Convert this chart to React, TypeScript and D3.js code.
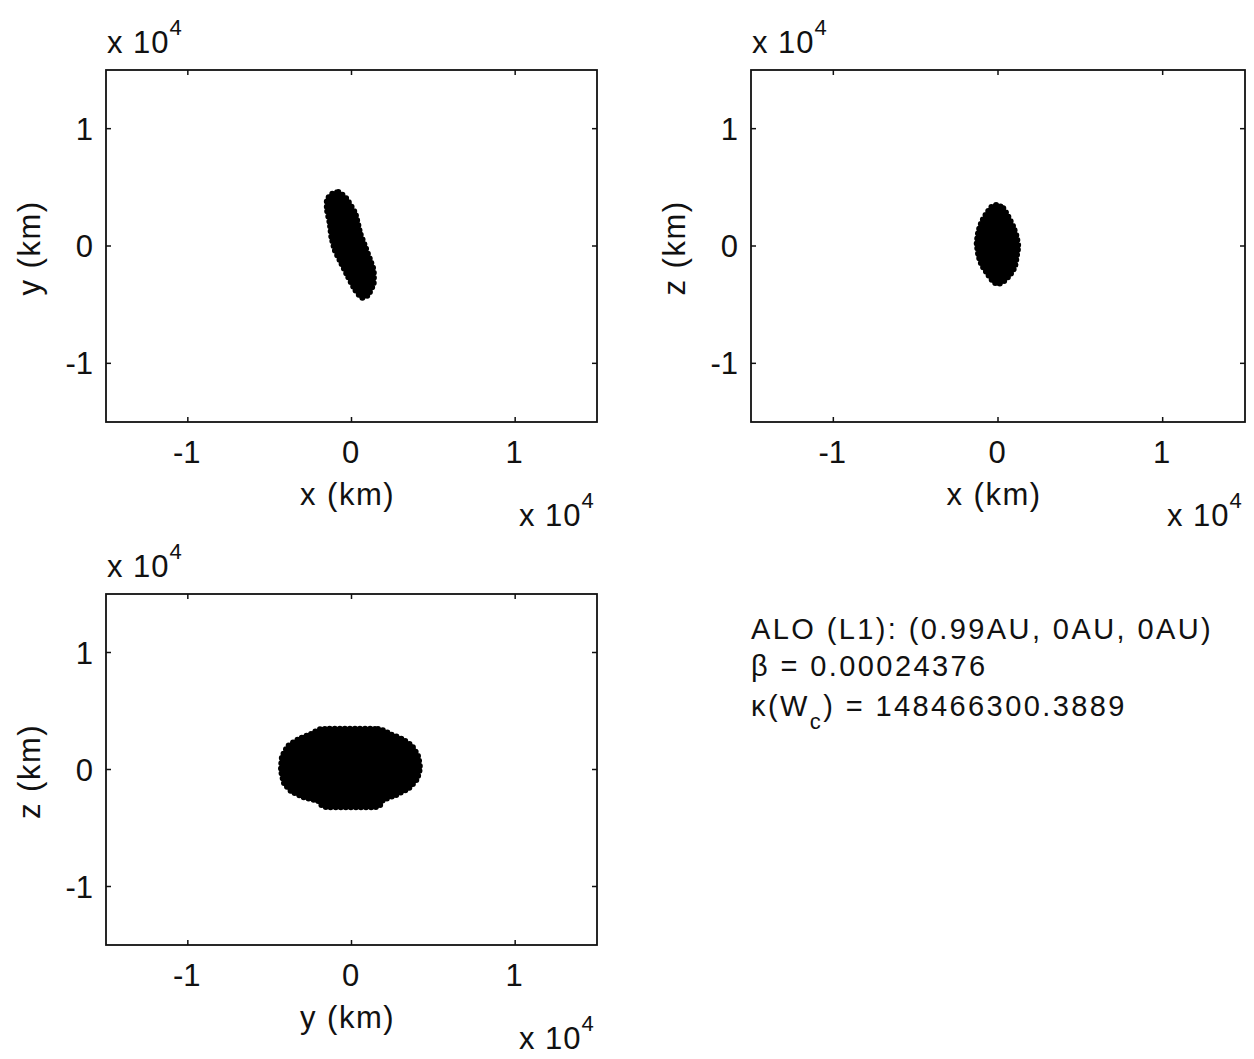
import React from "react";
import * as d3 from "d3";

// Axis settings shared by the three projections (km)
const DOMAIN: [number, number] = [-1.5e4, 1.5e4];
const TICK_VALUES = [-1e4, 0, 1e4];
const TICK_LABELS = ["-1", "0", "1"];

// Outlines of the particle cloud in each projection (km)
const cloudXY: [number, number][] = [
  [-1250, 4400], [-806, 4600], [-330, 4077], [230, 2795], [535, 1085],
  [841, -60], [1146, -1197], [1354, -2051], [1354, -3188], [1020, -4188],
  [623, -4400], [230, -3761], [-212, -2624], [-621, -1479], [-1024, -342],
  [-1232, 795], [-1330, 1940], [-1500, 3077], [-1500, 3932],
];

const cloudXZ: [number, number][] = [
  [-79, 3504], [322, 3222], [625, 2504], [929, 1650], [1135, 795],
  [1233, -60], [1135, -915], [1032, -1769], [729, -2479], [322, -3051],
  [18, -3248], [-285, -3051], [-589, -2479], [-990, -1624], [-1196, -769],
  [-1293, 231], [-1196, 1222], [-990, 2077], [-686, 2795], [-383, 3359],
];

const cloudYZ: [number, number][] = [
  [-1802, 3462], [1619, 3462], [2352, 3034], [3085, 2607], [3696, 2009],
  [4062, 1154], [4185, 128], [4001, -812], [3513, -1581], [2719, -2179],
  [1924, -2607], [1558, -3205], [-1619, -3205], [-2047, -2692], [-2963, -2350],
  [-3696, -1838], [-4124, -1154], [-4307, -43], [-4246, 1068], [-3879, 2009],
  [-3207, 2607], [-2474, 3034],
];

const ORBIT_LINE = "ALO (L1): (0.99AU, 0AU, 0AU)";
const BETA_LINE = "β = 0.00024376";
const KAPPA_VALUE = "148466300.3889";

const FONT = "'Liberation Sans', Arial, Helvetica, sans-serif";
const INK = "#111";

type Panel = {
  left: number;
  top: number;
  width: number;
  height: number;
  xLabel: string;
  yLabel: string;
  cloud: [number, number][];
};

const panels: Panel[] = [
  { left: 106, top: 70, width: 491, height: 352, xLabel: "x (km)", yLabel: "y (km)", cloud: cloudXY },
  { left: 751, top: 70, width: 494, height: 352, xLabel: "x (km)", yLabel: "z (km)", cloud: cloudXZ },
  { left: 106, top: 594, width: 491, height: 351, xLabel: "y (km)", yLabel: "z (km)", cloud: cloudYZ },
];

function Exponent({ x, y }: { x: number; y: number }) {
  return (
    <text x={x} y={y} fontFamily={FONT} fontSize={31} fill={INK} letterSpacing={1}>
      x 10
      <tspan dy={-18} fontSize={22}>4</tspan>
    </text>
  );
}

function PanelView({ p, id }: { p: Panel; id: number }) {
  const xs = d3.scaleLinear().domain(DOMAIN).range([p.left, p.left + p.width]);
  const ys = d3.scaleLinear().domain(DOMAIN).range([p.top + p.height, p.top]);
  const bottom = p.top + p.height;
  const right = p.left + p.width;
  const tl = 5;
  const line = d3
    .line<[number, number]>()
    .x((d) => xs(d[0]))
    .y((d) => ys(d[1]))
    .curve(d3.curveCardinalClosed.tension(0.6));
  const path = line(p.cloud) || "";
  const clipId = `clip-${id}`;
  return (
    <g>
      <defs>
        <clipPath id={clipId}>
          <rect x={p.left} y={p.top} width={p.width} height={p.height} />
        </clipPath>
      </defs>
      <rect x={p.left} y={p.top} width={p.width} height={p.height} fill="#fff" />
      <g clipPath={`url(#${clipId})`}>
        <path d={path} fill="#000" stroke="#000" strokeWidth={2} />
        <path
          d={path}
          fill="none"
          stroke="#000"
          strokeWidth={6}
          strokeDasharray="0 5"
          strokeLinecap="round"
        />
      </g>
      {TICK_VALUES.map((t, i) => (
        <g key={`t${i}`} stroke={INK} strokeWidth={1.5}>
          <line x1={xs(t)} x2={xs(t)} y1={bottom} y2={bottom - tl} />
          <line x1={xs(t)} x2={xs(t)} y1={p.top} y2={p.top + tl} />
          <line x1={p.left} x2={p.left + tl} y1={ys(t)} y2={ys(t)} />
          <line x1={right} x2={right - tl} y1={ys(t)} y2={ys(t)} />
        </g>
      ))}
      <rect
        x={p.left}
        y={p.top}
        width={p.width}
        height={p.height}
        fill="none"
        stroke={INK}
        strokeWidth={1.8}
      />
      {TICK_VALUES.map((t, i) => (
        <text
          key={`xl${i}`}
          x={xs(t) - 1}
          y={bottom + 41}
          textAnchor="middle"
          fontFamily={FONT}
          fontSize={31}
          fill={INK}
        >
          {TICK_LABELS[i]}
        </text>
      ))}
      {TICK_VALUES.map((t, i) => (
        <text
          key={`yl${i}`}
          x={p.left - 13}
          y={ys(t) + 11}
          textAnchor="end"
          fontFamily={FONT}
          fontSize={31}
          fill={INK}
        >
          {TICK_LABELS[i]}
        </text>
      ))}
      <text
        x={(p.left + right) / 2 - 4}
        y={bottom + 83}
        textAnchor="middle"
        fontFamily={FONT}
        fontSize={31}
        letterSpacing={1.5}
        fill={INK}
      >
        {p.xLabel}
      </text>
      <text
        transform={`translate(${p.left - 66},${p.top + p.height / 2 + 2}) rotate(-90)`}
        textAnchor="middle"
        fontFamily={FONT}
        fontSize={31}
        letterSpacing={1.5}
        fill={INK}
      >
        {p.yLabel}
      </text>
      <Exponent x={p.left + 1} y={p.top - 17} />
      <Exponent x={right - 78} y={bottom + 104} />
    </g>
  );
}

export default function App() {
  return (
    <div style={{ position: "absolute", left: 0, top: 0 }}>
      <svg width={1254} height={1059} style={{ display: "block", background: "#fff" }}>
        <rect x={0} y={0} width={1254} height={1059} fill="#fff" />
        {panels.map((p, i) => (
          <PanelView key={i} p={p} id={i} />
        ))}
        <g fontFamily={FONT} fontSize={29} fill={INK} letterSpacing={2.4}>
          <text x={751} y={639}>{ORBIT_LINE}</text>
          <text x={751} y={676}>{BETA_LINE}</text>
          <text x={751} y={716}>
            κ(W
            <tspan dy={13} fontSize={22}>c</tspan>
            <tspan dy={-13}>) = {KAPPA_VALUE}</tspan>
          </text>
        </g>
      </svg>
    </div>
  );
}
